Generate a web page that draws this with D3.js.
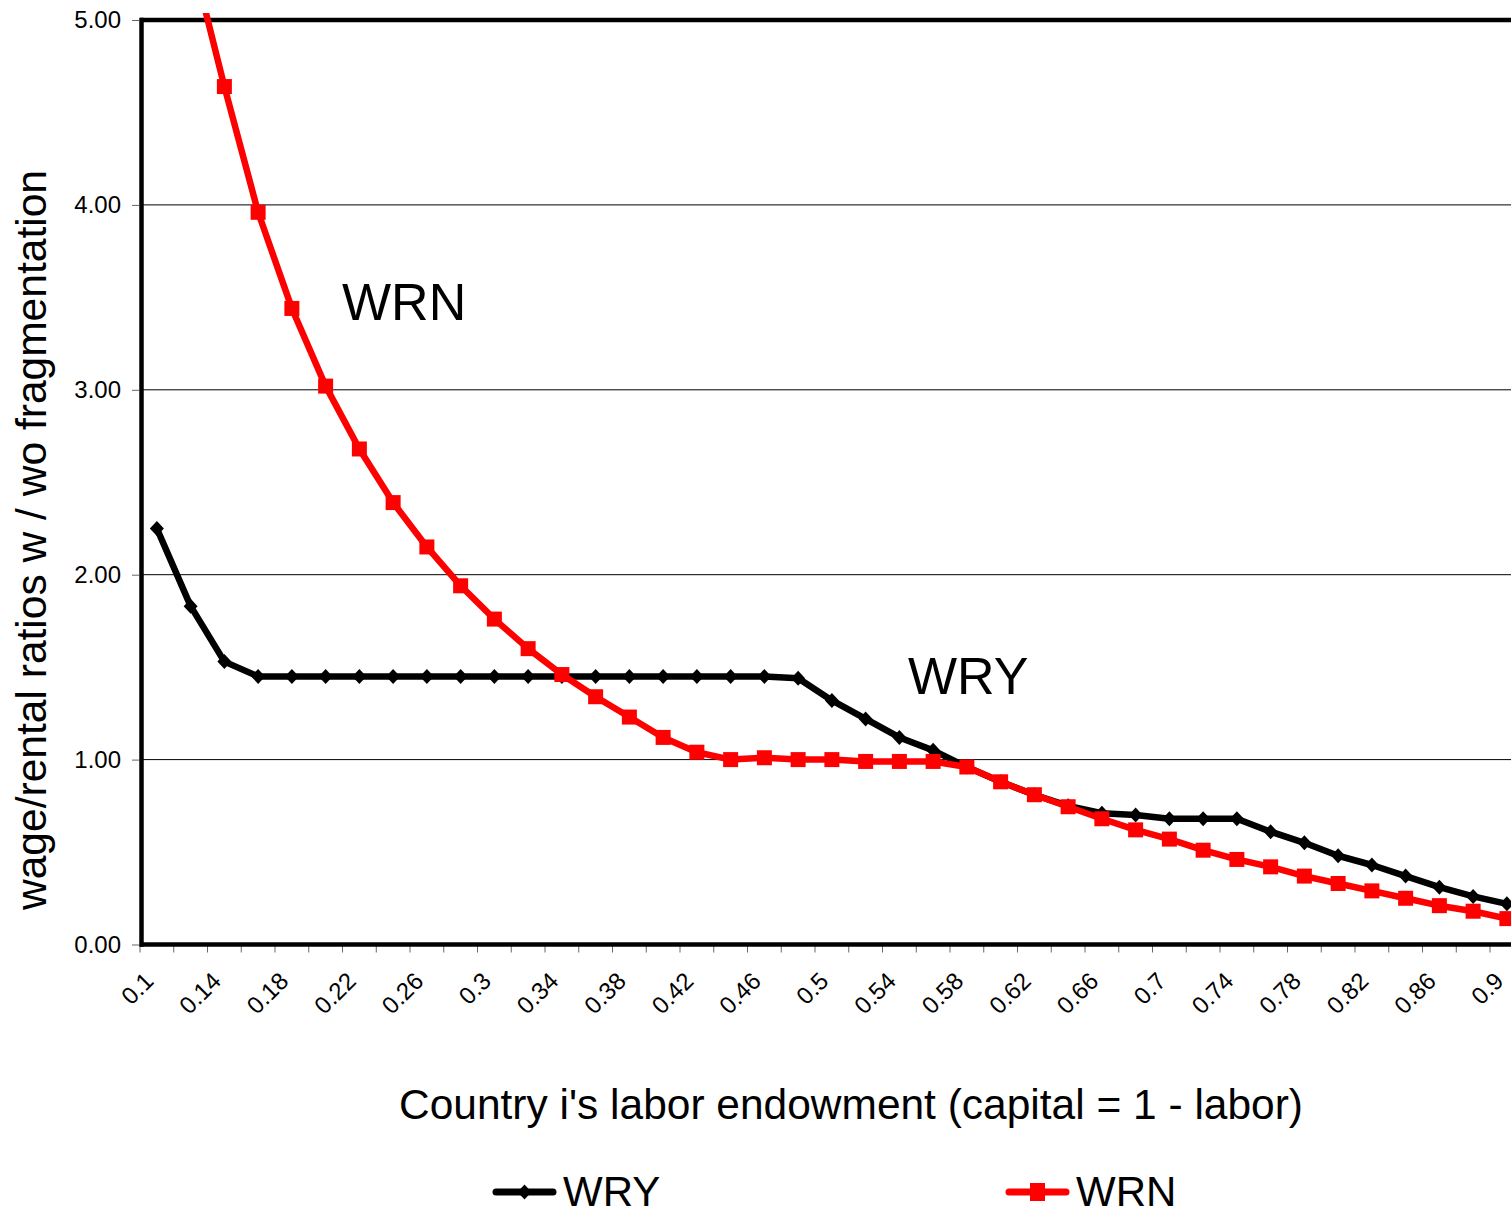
<!DOCTYPE html>
<html>
<head>
<meta charset="utf-8">
<script src="https://cdn.jsdelivr.net/npm/d3@7"></script>
<style>
  html, body { margin: 0; padding: 0; background: #fff; overflow: hidden; }
  svg { display: block; }
  text { font-family: "Liberation Sans", Arial, sans-serif; fill: #000; }
</style>
</head>
<body>
<svg id="chart" width="1511" height="1216"></svg>
<script>
// ---- data ----
const categories = ["0.1","0.12","0.14","0.16","0.18","0.2","0.22","0.24","0.26","0.28",
  "0.3","0.32","0.34","0.36","0.38","0.4","0.42","0.44","0.46","0.48",
  "0.5","0.52","0.54","0.56","0.58","0.6","0.62","0.64","0.66","0.68",
  "0.7","0.72","0.74","0.76","0.78","0.8","0.82","0.84","0.86","0.88","0.9"];
const xTickLabels = ["0.1","0.14","0.18","0.22","0.26","0.3","0.34","0.38","0.42","0.46",
  "0.5","0.54","0.58","0.62","0.66","0.7","0.74","0.78","0.82","0.86","0.9"];
const yTicks = [0, 1, 2, 3, 4, 5];
const wry = [2.25, 1.83, 1.53, 1.45, 1.45, 1.45, 1.45, 1.45, 1.45, 1.45,
  1.45, 1.45, 1.45, 1.45, 1.45, 1.45, 1.45, 1.45, 1.45, 1.44,
  1.32, 1.22, 1.12, 1.05, 0.96, 0.88, 0.81, 0.75, 0.71, 0.70,
  0.68, 0.68, 0.68, 0.61, 0.55, 0.48, 0.43, 0.37, 0.31, 0.26, 0.22];
const wrn = [null, 5.37, 4.64, 3.96, 3.44, 3.02, 2.68, 2.39, 2.15, 1.94,
  1.76, 1.60, 1.46, 1.34, 1.23, 1.12, 1.04, 1.00, 1.01, 1.00,
  1.00, 0.99, 0.99, 0.99, 0.96, 0.88, 0.81, 0.745, 0.68, 0.62,
  0.57, 0.51, 0.46, 0.42, 0.37, 0.33, 0.29, 0.25, 0.21, 0.18, 0.14];
const seriesNames = ["WRY", "WRN"];
const seriesColors = ["#000000", "#ff0000"];
const yTitle = "wage/rental ratios w / wo fragmentation";
const xTitle = "Country i's labor endowment (capital = 1 - labor)";

// ---- layout ----
const pLeft = 140, step = 33.75;
const pRight = pLeft + categories.length * step;
const pTop = 20, pBottom = 944.5;

const svg = d3.select("#chart");
const x = d3.scaleBand().domain(categories).range([pLeft, pRight]).padding(0);
const cx = c => x(c) + x.bandwidth() / 2;
const y = d3.scaleLinear().domain([0, 5]).range([pBottom, pTop]);

// clip
svg.append("defs").append("clipPath").attr("id", "plotclip")
  .append("rect").attr("x", pLeft).attr("y", pTop - 7).attr("width", pRight - pLeft + 10).attr("height", pBottom - pTop + 30);

// gridlines
svg.append("g").selectAll("line").data(yTicks.filter(d => d > 0 && d < 5)).join("line")
  .attr("x1", pLeft).attr("x2", pRight).attr("y1", d => y(d)).attr("y2", d => y(d))
  .attr("stroke", "#000").attr("stroke-width", 1);

// y axis
const yAxis = d3.axisLeft(y).tickValues(yTicks).tickFormat(d3.format(".2f")).tickSize(7).tickPadding(11);
const gy = svg.append("g").attr("transform", `translate(${pLeft - 1},0)`).call(yAxis);
gy.select(".domain").remove();
gy.selectAll(".tick line").attr("stroke", "#666").attr("stroke-width", 1);
gy.selectAll(".tick text").attr("font-size", 24).attr("font-family", "Liberation Sans, Arial, sans-serif").attr("fill", "#000");

// x axis ticks at category boundaries
const boundaries = categories.map(c => x(c)).concat([pRight]);
svg.append("g").selectAll("line").data(boundaries).join("line")
  .attr("x1", d => d).attr("x2", d => d).attr("y1", pBottom).attr("y2", pBottom + 8)
  .attr("stroke", "#666").attr("stroke-width", 1);

// x tick labels
svg.append("g").selectAll("text").data(xTickLabels).join("text")
  .attr("transform", d => `translate(${cx(d) - 2},${pBottom + 38}) rotate(-45)`)
  .attr("text-anchor", "end").attr("font-size", 24).text(d => d);

// plot frame lines
svg.append("line").attr("x1", pLeft).attr("x2", pRight).attr("y1", pTop).attr("y2", pTop)
  .attr("stroke", "#000").attr("stroke-width", 4.5);
svg.append("line").attr("x1", pLeft).attr("x2", pRight).attr("y1", pBottom).attr("y2", pBottom)
  .attr("stroke", "#000").attr("stroke-width", 4.5);
svg.append("line").attr("x1", pLeft + 1.5).attr("x2", pLeft + 1.5).attr("y1", pTop - 2.25).attr("y2", pBottom + 2.25)
  .attr("stroke", "#000").attr("stroke-width", 4.5);

// series
const plot = svg.append("g").attr("clip-path", "url(#plotclip)");
const line = d3.line().defined(d => d.v != null).x(d => cx(d.c)).y(d => y(d.v));
const wryData = categories.map((c, i) => ({c, v: wry[i]}));
const wrnData = categories.map((c, i) => ({c, v: wrn[i]}));

const diamond = "M0,-7.5L7,0L0,7.5L-7,0Z";

plot.append("path").datum(wryData).attr("d", line).attr("fill", "none")
  .attr("stroke", seriesColors[0]).attr("stroke-width", 6.5).attr("stroke-linejoin", "round");
plot.append("g").selectAll("path").data(wryData.filter(d => d.v != null)).join("path")
  .attr("transform", d => `translate(${cx(d.c)},${y(d.v)})`).attr("d", diamond).attr("fill", seriesColors[0]);

plot.append("path").datum(wrnData).attr("d", line).attr("fill", "none")
  .attr("stroke", seriesColors[1]).attr("stroke-width", 6.5).attr("stroke-linejoin", "round");
plot.append("g").selectAll("rect").data(wrnData.filter(d => d.v != null)).join("rect")
  .attr("x", d => cx(d.c) - 7.5).attr("y", d => y(d.v) - 7.5).attr("width", 15).attr("height", 15)
  .attr("fill", seriesColors[1]);

// annotations
svg.append("text").attr("x", 342).attr("y", 320).attr("font-size", 52).text("WRN");
svg.append("text").attr("x", 908).attr("y", 694).attr("font-size", 52).text("WRY");

// axis titles
svg.append("text").attr("x", 399).attr("y", 1119).attr("font-size", 42.5)
  .attr("textLength", 904).attr("lengthAdjust", "spacingAndGlyphs").text(xTitle);
svg.append("text").attr("transform", "translate(46,910) rotate(-90)").attr("font-size", 42.5)
  .attr("textLength", 740).attr("lengthAdjust", "spacingAndGlyphs").text(yTitle);

// legend
const legend = [{x: 496, xt: 563}, {x: 1009, xt: 1076}];
const ly = 1192;
legend.forEach((L, i) => {
  const g = svg.append("g");
  g.append("line").attr("x1", L.x).attr("x2", L.x + 57).attr("y1", ly).attr("y2", ly)
    .attr("stroke", seriesColors[i]).attr("stroke-width", 7).attr("stroke-linecap", "round");
  if (i === 0) {
    g.append("path").attr("transform", `translate(${L.x + 28.5},${ly})`).attr("d", diamond).attr("fill", seriesColors[i]);
  } else {
    g.append("rect").attr("x", L.x + 28.5 - 7.5).attr("y", ly - 9).attr("width", 15).attr("height", 18).attr("fill", seriesColors[i]);
  }
  g.append("text").attr("x", L.xt).attr("y", 1206).attr("font-size", 42).text(seriesNames[i]);
});
</script>
</body>
</html>
